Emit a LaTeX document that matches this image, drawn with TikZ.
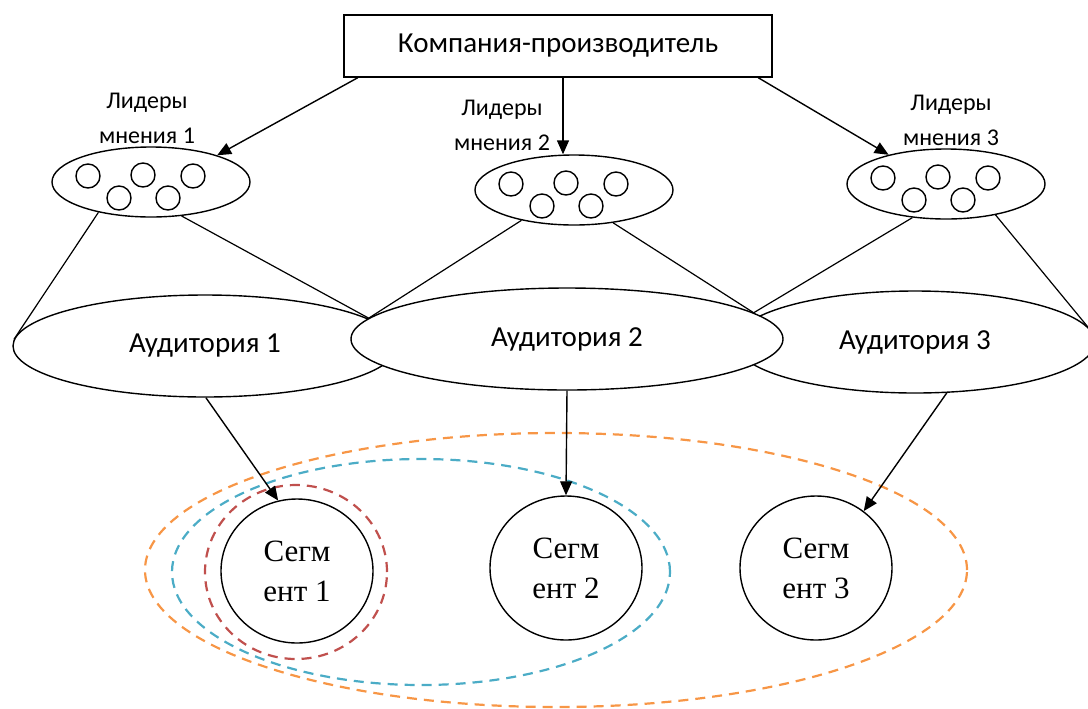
\documentclass[tikz,border=0pt]{standalone}
\usepackage{fontspec}
\setmainfont{Carlito}
\newfontfamily\segfont{Liberation Serif}
\usetikzlibrary{shapes.geometric,arrows.meta}

\definecolor{grpred}{RGB}{192,80,77}
\definecolor{grpblue}{RGB}{75,172,198}
\definecolor{grporange}{RGB}{247,150,70}

\tikzset{
  firm/.style={draw, rectangle, minimum width=214pt, minimum height=31pt, font=\fontsize{14.5}{17}\selectfont, line width=0.7pt},
  leaders/.style={draw, ellipse, inner sep=0pt, minimum width=99pt, minimum height=35pt, line width=0.7pt},
  lbl/.style={align=center, font=\fontsize{12}{17.5}\selectfont},
  audience/.style={draw, ellipse, fill=white, inner sep=0pt, minimum height=51pt, font=\fontsize{14.5}{17}\selectfont, line width=0.7pt},
  segment/.style={draw, ellipse, inner sep=0pt, minimum width=76pt, minimum height=72pt, align=center, font=\segfont\fontsize{15.5}{20}\selectfont, line width=0.7pt},
  group/.style={draw, ellipse, inner sep=0pt, dash pattern=on 5pt off 3.5pt, line width=1.1pt},
  arr/.style={-{Triangle[length=7pt,width=6pt]}, line width=0.7pt},
  cone/.style={line width=0.6pt}
}

\begin{document}
\begin{tikzpicture}[x=0.5pt, y=-0.5pt]
  \useasboundingbox (0,0) rectangle (1088,708);

  % Define nodes
  \node[firm] (F) at (558,46) {Компания-производитель};

  \node[leaders] (L1) at (151,182) {};
  \node[leaders] (L2) at (574,190) {};
  \node[leaders] (L3) at (946,184) {};
  \node[lbl] (T1) at (147,118) {Лидеры\\мнения 1};
  \node[lbl] (T2) at (502,125) {Лидеры\\мнения 2};
  \node[lbl] (T3) at (951,120) {Лидеры\\мнения 3};

  \node[audience, minimum width=192pt] (A1) at (205,346) {Аудитория 1};
  \node[audience, minimum width=180pt] (A3) at (915,342) {Аудитория 3};
  \node[audience, minimum width=216pt] (A2) at (567,339) {Аудитория 2};

  \node[group, draw=grporange, minimum width=411pt, minimum height=137pt] (G3) at (556,570) {};
  \node[group, draw=grpblue, minimum width=249pt, minimum height=113pt] (G2) at (421,572) {};
  \node[group, draw=grpred, minimum width=91pt, minimum height=87pt] (G1) at (296,572) {};

  \node[segment] (S1) at (297,571) {Сегм\\ент 1};
  \node[segment] (S2) at (566,568) {Сегм\\ент 2};
  \node[segment] (S3) at (816,568) {Сегм\\ент 3};

  % small circles in the leader groups
  \foreach \l in {L1,L2,L3}
    \foreach \dx/\dy in {-63/-6, -8/-7, 42/-6, -32/16, 17/16}
      \draw[line width=0.7pt] ([shift={(\dx,\dy)}]\l.center) circle[radius=6pt];

  % Connect the nodes
  \draw[arr] (F.189) -- (L1.22);
  \draw[arr] ([xshift=-5.5pt]L2.north |- F.south) -- ([xshift=-5.5pt]L2.north);
  \draw[arr] (F.351) -- (L3.153);

  \draw[cone] (L1.210) -- (A1.178);
  \draw[cone] (L1.312) -- (A2.174);
  \draw[cone] (L2.210) -- (A2.174);
  \draw[cone] (L2.320) -- (A2.8);
  \draw[cone] (L3.225) -- (A2.8);
  \draw[cone] (L3.328) -- (A3.5);

  \draw[arr] (A1.271) -- (S1.105);
  \draw[arr] (A2.south) -- (S2.north);
  \draw[arr] (A3.302) -- (S3.50);
\end{tikzpicture}
\end{document}
